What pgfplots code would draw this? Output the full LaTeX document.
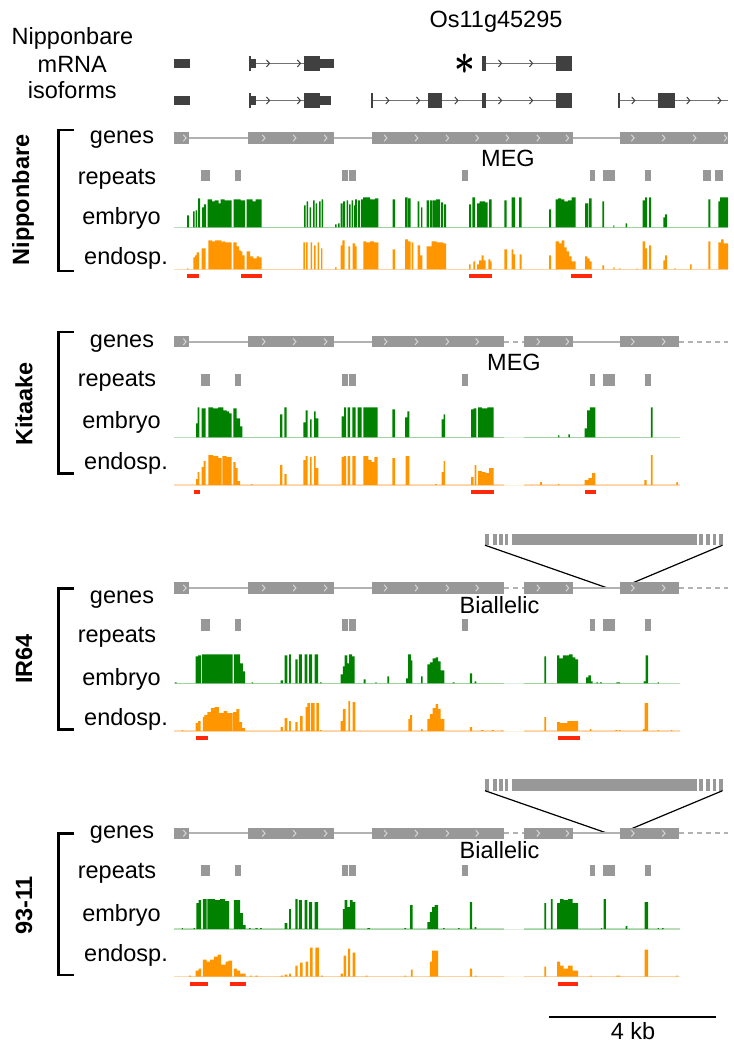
\documentclass[border=0pt]{standalone}
\usepackage{pgfplots}
\pgfplotsset{compat=1.18}
\usepackage{pgfplotstable}
\usepackage{fontspec}
\setmainfont{Liberation Sans}

\definecolor{embc}{RGB}{0,130,0}
\definecolor{endc}{RGB}{255,150,0}
\definecolor{emblight}{RGB}{185,222,185}
\definecolor{endlight}{RGB}{255,218,180}
\definecolor{redc}{RGB}{255,40,10}
\definecolor{genec}{RGB}{152,152,152}
\definecolor{chevc}{RGB}{214,214,214}
\definecolor{intronc}{RGB}{178,178,178}
\definecolor{isoc}{RGB}{64,64,64}
\definecolor{isoline}{RGB}{115,115,115}

\newcommand\labelfont{\fontsize{11.75}{14}\selectfont}
\tikzset{
  lbl/.style={font=\labelfont, inner sep=0pt, anchor=base},
  blbl/.style={font=\labelfont\bfseries, inner sep=0pt, rotate=90, anchor=center},
  astk/.style={inner sep=0pt, font=\fontsize{21}{21}\selectfont},
}

% strand chevron used on gene models
\pgfdeclareplotmark{chev}{%
  \pgfpathmoveto{\pgfqpoint{-0.7pt}{1.6pt}}%
  \pgfpathlineto{\pgfqpoint{0.7pt}{0pt}}%
  \pgfpathlineto{\pgfqpoint{-0.7pt}{-1.6pt}}%
  \pgfusepathqstroke}

% one horizontal feature: colour, thickness, from, to, y
\newcommand\seg[5]{\addplot[#1, line width=#2] coordinates {(#3,#5)(#4,#5)};}

% gene track of the re-assembled genomes (gaps after 504 and 679)
\newcommand\genesB[1]{%
  \seg{intronc}{1pt}{173.8}{504.4}{#1}%
  \addplot[intronc, line width=1pt, dash pattern=on 2.5pt off 2pt] coordinates {(504.4,#1)(524.4,#1)};%
  \seg{intronc}{1pt}{524.4}{679.3}{#1}%
  \addplot[intronc, line width=1pt, dash pattern=on 2.5pt off 2pt] coordinates {(679.3,#1)(728,#1)};%
  \seg{genec}{5.6pt}{173.8}{189.1}{#1}%
  \seg{genec}{5.6pt}{248.4}{333.5}{#1}%
  \seg{genec}{5.6pt}{371.6}{504.4}{#1}%
  \seg{genec}{5.6pt}{524.4}{572.7}{#1}%
  \seg{genec}{5.6pt}{620}{679.3}{#1}%
  \addplot[only marks, mark=chev, mark options={draw=chevc, line width=0.5pt}] coordinates {
    (184.7,#1)(263.6,#1)(294.5,#1)(325.5,#1)(385.5,#1)(416.4,#1)(447.3,#1)(477.1,#1)
    (538.2,#1)(567.3,#1)(632.7,#1)(663.6,#1)};%
}
% repeat annotation track
\newcommand\repeatsB[1]{%
  \seg{genec}{5.6pt}{200.7}{210.2}{#1}%
  \seg{genec}{5.6pt}{234.9}{240.7}{#1}%
  \seg{genec}{5.6pt}{341.8}{348}{#1}%
  \seg{genec}{5.6pt}{348.8}{356.4}{#1}%
  \seg{genec}{5.6pt}{462.2}{467.6}{#1}%
  \seg{genec}{5.6pt}{590.2}{594.5}{#1}%
  \seg{genec}{5.6pt}{602.5}{614.5}{#1}%
  \seg{genec}{5.6pt}{644.7}{650.9}{#1}%
}
% insertion drawn above the gene track: bar centre, bar bottom, gene line
\newcommand\insertB[3]{%
  \seg{genec}{5.6pt}{485}{489}{#1}%
  \seg{genec}{5.6pt}{492.7}{496.7}{#1}%
  \seg{genec}{5.6pt}{499.3}{502.7}{#1}%
  \seg{genec}{5.6pt}{505}{508.3}{#1}%
  \seg{genec}{5.6pt}{512.3}{697}{#1}%
  \seg{genec}{5.6pt}{699}{703}{#1}%
  \seg{genec}{5.6pt}{706}{709.5}{#1}%
  \seg{genec}{5.6pt}{712.5}{716}{#1}%
  \seg{genec}{5.6pt}{719}{723}{#1}%
  \addplot[black, line width=0.6pt] coordinates {(485,#2)(607.5,#3)};%
  \addplot[black, line width=0.6pt] coordinates {(722.5,#2)(620.5,#3)};%
}
% strain bracket: top, bottom
\newcommand\bracketB[2]{%
  \addplot[black, line width=1.2pt] coordinates {(74,#1)(58.5,#1)(58.5,#2)(74,#2)};%
}
% the four track names: baselines of genes, repeats, embryo, endosp.
\newcommand\tracknames[4]{%
  \node[lbl] at (122,#1) {genes};%
  \node[lbl] at (117,#2) {repeats};%
  \node[lbl] at (121.5,#3) {embryo};%
  \node[lbl] at (126,#4) {endosp.};%
}

\pgfplotstableread{
x h
186 0
187 12
189 0
193 16
194.5 0
195.5 17
197 0
198 29
200 0
202 20
203.8 23
206 0
207.5 28
212 26
214.5 27
218.5 24
220.5 28
224.5 27
231.5 0
233.5 28
240.5 27
245 0
246.5 28
252.5 26
255.5 28
261.7 0
304 22
305.5 0
306.5 26
308 0
309.5 20
311 0
313 27
314.5 0
315.5 24
317 0
319 26
320.5 0
321.5 28
323 0
335 3
336.5 0
338 4
339.5 0
340.7 24
342.5 0
343 26
345 0
346.7 27
348 0
349 23
350.5 0
351.5 27
353 0
354 22
355 28
357 0
358 27
360 0
361 28
363 30
370 28
375 29
378.3 0
392.7 28
395 0
405 30
407.5 0
408 29
410.7 0
417.7 26
419.3 0
421 20
422.3 0
426.7 27
429 0
430 27
432.5 0
433 27
436 28
440 0
441 25
443 0
444 23
446 0
469 23
471 0
472.3 30
475 0
477 24
479.7 26
485 25
487.7 0
489 28
491.7 0
504.3 27
506.7 0
511.7 30
515 0
519 30
521.7 0
549 18
551 0
555.7 28
558 29
561 28
564.3 26
568 27
571.7 30
575.7 0
585 24
588.3 0
589 29
591.7 0
602.3 26
604 0
613.3 2
614.3 0
625.7 4
627 0
642.7 27
645 30
647 0
649 30
651 0
663.3 10
665 13
667 0
708.3 28
710.3 0
718.3 26
720 30
728 30
728 0
}\tabNipEmb

\pgfplotstableread{
x h
186.5 0
187 1
188.3 0
193.3 12
195 14
196.7 17
199 0
201.7 21
205.7 0
208.3 29
212 28
215 29
221.7 27
222.3 28
225 27
231.7 0
233.3 27
236.7 23
239 19
240.5 18
242.3 14
244.5 0
246.7 18
250 13
253.3 11
256.7 13
259 12
261.7 0
303.3 27
305 0
306 27
307.7 0
310.7 27
312 0
314 24
315.7 0
317.7 27
319 0
321 21
322.3 0
335 2
336.7 0
340.7 24
342.3 29
344.5 0
348.3 23
350 0
352.7 26
355 23
356.7 0
363.3 28
366 27
370 28
374 27
378.3 0
392.7 20
395 0
405 30
408 28
410.7 0
411.7 27
413.3 0
417.7 24
420 14
422.3 0
426.7 23
431.7 28
436.7 27
440 27
443.3 26
446 0
469 5
470.7 0
473.3 8
475 0
477 5
479 9
481.7 14
483.7 9
485.7 0
488.3 10
490.3 8
491.7 0
504.3 20
507 0
511.7 20
513.3 15
515 0
519.7 15
521.7 0
549 14
551 0
555.7 28
559 26
561.7 29
564.3 22
566.7 18
569 13
571.7 8
575.7 0
585 13
587.3 11
589.7 8
591.7 0
602.3 4
604 0
613.3 2
614.7 0
619 1
620.3 0
636.7 1
637.7 0
642.7 28
645 21
647 0
649 24
651 0
663.3 9
665 14
667 0
674.3 1
675.7 0
690 5
691.7 0
708.3 28
710.3 0
718.3 27
721 30
723.7 26
728 26
728 0
}\tabNipEnd

\pgfplotstableread{
x h
195.5 0
196 14
197.7 30
199.3 0
201.7 29
205.7 0
208.3 30
213 29
218 30
223.3 27
226.7 26
229 24
231.7 0
233.3 29
236.7 19
240 11
242.3 0
280 23
282.3 0
284.3 30
286.7 0
303.3 15
305.7 27
307.7 0
310 18
311.7 0
314 26
315.7 19
318.3 0
341.7 21
344 30
346 0
347.7 30
350 0
352.3 30
355.7 0
357.7 30
361.7 0
363.3 30
377.7 0
392.3 28
395 0
405 20
407.3 26
409.3 0
441.7 18
443.7 23
445 0
471 28
473.5 29
476.4 0
478 30
481.8 29
487.3 30
493.5 0
558 2
559.3 0
568.4 3
569.8 0
584.7 9
587 27
589.8 30
595.3 0
650.9 30
652.7 0
}\tabKitEmb

\pgfplotstableread{
x h
195.5 0
196 6
197.7 13
199.3 0
201.7 18
203.7 24
205.7 0
208.3 30
213.3 29
218.3 27
221.7 0
222.3 29
226.7 28
231.7 0
233.3 23
235.7 17
237.7 4
240 0
251 1
252.3 0
280 20
282.3 0
284.3 11
286.7 0
303.3 25
305.7 29
307.7 0
310 28
311.7 0
314 29
315.7 17
318.3 0
341.7 28
344 29
346 0
347.7 29
350 0
352.3 29
355.7 0
363.3 29
368.3 25
371.7 23
374.3 28
377.7 0
392.3 27
395 0
405.7 29
409.3 0
435 1
436.7 0
441.7 13
443.7 24
445 0
471 8
473.5 0
474.5 20
476.4 0
478 14
481.8 13
485.5 12
489 17
493.5 0
540 3
541.8 0
558.2 1
559.3 0
584.7 5
588.4 7
592 12
595.3 0
644.4 5
646.5 0
650.9 30
652.7 0
676.4 3
677.8 0
}\tabKitEnd

\pgfplotstableread{
x h
174.5 0
175 1
176.7 0
195.6 27
198.2 28
201.1 0
202.2 29
207.3 29
232.7 0
234.2 29
240 20
242.9 12
245.1 0
251.6 1
253.1 0
280.7 3
282.9 0
284.7 28
287.3 0
289.1 29
290.9 0
295.3 24
297.5 0
298.9 29
301.8 0
304.7 29
307.3 0
309.1 29
312 0
314.5 29
318.2 0
320 1
321.5 0
340.7 9
342.9 17
344.7 28
347.3 20
349.1 29
352 27
354.5 0
363.6 4
365.5 0
375.3 1
376.7 0
387.3 7
389.1 0
406.2 5
408 29
410.9 23
412.3 0
421.1 7
422.5 0
427.3 19
429.8 21
432.7 25
435.6 26
438.2 22
440.7 13
444.4 0
452.7 1
454.5 0
469.8 10
472 0
474.5 2
476.4 0
544.4 27
546.2 0
557.1 28
559.3 25
562.9 28
569.1 29
572.7 26
575.3 24
578.2 0
586.2 6
588.4 8
590.9 2
592.6 0
596.4 1
598 0
600 1
601.8 0
616.4 1
620 0
643.6 2
645.5 28
648 0
657.5 1
658.9 0
}\tabIrEmb

\pgfplotstableread{
x h
181 0
181.8 1
183 0
195.6 8
198.2 10
200.7 0
202.9 14
204.4 16
207.3 19
210.9 23
214.5 24
218.9 18
223.6 20
227.3 18
232.7 0
233.2 19
236.4 22
239.3 9
242.2 3
245.1 0
280.7 4
282.9 0
284.7 13
287.3 0
289.1 10
290.9 0
295.3 9
297.5 0
300 15
302.5 0
305.5 24
307.3 28
309.8 0
310.9 28
314.5 0
316.4 28
318.9 0
320 1
321.5 0
340.7 10
342.9 22
345.5 0
348.4 30
350.2 0
352.7 29
355.3 0
408.4 12
410.2 16
412 0
421.1 2
422.5 0
427.3 12
429.8 17
432.7 23
435.6 27
438.2 22
440.7 12
444.4 0
469.8 4
472 0
481.1 1
483.6 0
491.6 1
493.8 0
501.5 1
502.5 0
544.4 14
546.2 0
557.1 9
560 8
567.3 10
578.2 0
589.8 2
591.3 0
615.3 1
617.5 0
619 1
620.5 0
642.9 2
644.7 28
648 0
657.5 1
658.9 0
671 1
672.4 0
}\tabIrEnd

\pgfplotstableread{
x h
181 0
181.8 1
182.9 0
193.5 1
194.9 0
196.4 26
198.5 29
201.1 0
202.9 30
206.5 0
207.3 30
215 29
220 30
225 28
229.1 0
233.8 29
240 16
242.9 4
245.5 0
249 1
250.5 0
255.3 1
257.5 0
260 1
261.8 0
284.7 6
287.3 0
289.1 20
290.9 0
295.3 30
297.5 0
298.9 29
301.8 0
304.7 29
307.3 0
309.1 27
312 0
314.5 27
318.2 0
342.9 20
344.7 29
347.3 22
349.8 29
352.7 27
355.3 0
367.3 1
370.2 0
404.4 1
406.2 0
410.2 24
412.7 0
427.3 7
429.8 17
432 22
434.5 24
438.2 0
443 1
444.5 0
458 1
459.5 0
469.8 27
472 0
474.5 2
476.4 0
544.4 26
546.2 0
550.9 30
552.7 0
557.1 26
560 30
563.6 29
568 30
572.7 26
578.2 0
600.8 1
602.2 0
603.6 30
605.8 0
625.5 3
627.3 0
644.7 27
648 0
657.5 1
658.9 0
662 1
663.5 0
}\tabNtEmb

\pgfplotstableread{
x h
188 0
189.1 1
190.9 0
195.6 6
198.5 8
201.1 0
202.9 17
206.5 15
210.2 17
213.8 20
217.5 22
221.1 12
225.5 15
228.4 16
232 0
233.8 8
237.1 6
240 3
245.5 0
250.2 1
251.6 0
255.3 1
257.5 0
280.7 1
282.9 0
284.7 2
287.3 0
289.1 3
290.9 0
295.3 11
297.5 0
300 14
302.5 0
305.5 15
308 0
310.2 29
312.7 0
315.3 29
318.9 0
321 1
322.9 0
340.7 3
342.9 0
343.6 21
346.2 0
348 28
350.2 0
352.7 24
355.3 0
365.5 1
367.3 0
404.4 1
406 0
410.9 7
412.7 0
429.8 15
432 26
438.2 0
469.8 8
472 0
475 1
476.4 0
544.4 10
546.2 0
557.1 15
560 11
563.6 8
568 11
572.7 6
578.2 0
589.8 1
591.3 0
616.4 1
620 0
644.7 27
648 0
676.4 1
677.8 0
}\tabNtEnd

\begin{document}
\begin{tikzpicture}
\begin{axis}[
  scale only axis, width=364pt, height=522pt,
  xmin=0, xmax=728, ymin=0, ymax=1044, y dir=reverse,
  hide axis, clip=false,
]
% invisible frame fixing the extent of the figure
\addplot[draw=none] coordinates {(0,0)(728,0)(728,1044)(0,1044)};

% ---------- titles ----------
\node[lbl] at (496,27) {Os11g45295};
\node[lbl] at (72.5,44) {Nipponbare};
\node[lbl] at (72.3,72) {mRNA};
\node[lbl] at (72.3,98) {isoforms};
\node[astk] at (464.7,64) {$\ast$};
\node[astk] at (465.3,64.5) {$\ast$};
\node[astk] at (465,63.6) {$\ast$};

% ---------- mRNA isoforms ----------
\seg{isoline}{0.8pt}{255}{303.6}{63.4}
\seg{isoline}{0.8pt}{486}{556}{63.4}
\seg{isoc}{4.2pt}{173.8}{189.8}{63.4}
\seg{isoc}{4.2pt}{251}{255.5}{63.4}
\seg{isoc}{4.2pt}{319.5}{333.8}{63.4}
\seg{isoc}{7.65pt}{249}{251.3}{63.4}
\seg{isoc}{7.65pt}{303.6}{320}{63.4}
\seg{isoc}{7.65pt}{482}{486}{63.4}
\seg{isoc}{7.65pt}{556}{572}{63.4}
\addplot[only marks, mark=chev, mark options={draw=isoc, line width=0.5pt, scale=1.1}] coordinates {
  (268,63.4)(298.9,63.4)(500,63.4)(531,63.4)};

\seg{isoline}{0.8pt}{255}{303.6}{100.5}
\seg{isoline}{0.8pt}{372}{556}{100.5}
\seg{isoline}{0.8pt}{619}{728}{100.5}
\seg{isoc}{4.2pt}{173.8}{189.8}{100.5}
\seg{isoc}{4.2pt}{251}{255.5}{100.5}
\seg{isoc}{4.2pt}{319.5}{331}{100.5}
\seg{isoc}{7.65pt}{249}{251.3}{100.5}
\seg{isoc}{7.65pt}{303.6}{320}{100.5}
\seg{isoc}{7.65pt}{428}{441.8}{100.5}
\seg{isoc}{7.65pt}{482}{486}{100.5}
\seg{isoc}{7.65pt}{556}{572}{100.5}
\seg{isoc}{7.65pt}{658}{675}{100.5}
\addplot[isoc, line width=0.9pt] coordinates {(372,92.7)(372,108.3)};
\addplot[isoc, line width=0.9pt] coordinates {(619,92.7)(619,108.3)};
\addplot[only marks, mark=chev, mark options={draw=isoc, line width=0.5pt, scale=1.1}] coordinates {
  (268,100.5)(298.9,100.5)(387.3,100.5)(418,100.5)(456.4,100.5)(500,100.5)(531,100.5)
  (633.3,100.5)(688.3,100.5)(719.3,100.5)};

% ---------- Nipponbare ----------
\bracketB{130}{270.7}
\node[blbl] at (23,200) {Nipponbare};
\tracknames{143.3}{184.3}{224.3}{264.3}

\seg{intronc}{1pt}{173.8}{728}{138}
\seg{genec}{5.6pt}{173.8}{189.1}{138}
\seg{genec}{5.6pt}{248.4}{333.5}{138}
\seg{genec}{5.6pt}{371.6}{572.7}{138}
\seg{genec}{5.6pt}{620}{728}{138}
\addplot[only marks, mark=chev, mark options={draw=chevc, line width=0.5pt}] coordinates {
  (184.7,138)(263.6,138)(294.5,138)(325.5,138)(385.5,138)(416.4,138)(447.3,138)(477.1,138)
  (507.3,138)(538.2,138)(567.3,138)(632.7,138)(663.6,138)(694.5,138)(725.5,138)};
\node[lbl] at (508,166.5) {MEG};
\repeatsB{175.5}
\seg{genec}{5.6pt}{703.3}{710.9}{175.5}
\seg{genec}{5.6pt}{714.5}{722.9}{175.5}

\seg{emblight}{0.6pt}{173.8}{728}{227.3}
\addplot[const plot, draw=none, fill=embc] table[x=x, y expr=227.3-\thisrow{h}] {\tabNipEmb};
\seg{endlight}{0.6pt}{173.8}{728}{269.3}
\addplot[const plot, draw=none, fill=endc] table[x=x, y expr=269.3-\thisrow{h}] {\tabNipEnd};
\seg{redc}{2pt}{187.3}{199.3}{276}
\seg{redc}{2pt}{241}{261.7}{276}
\seg{redc}{2pt}{469.3}{492.3}{276}
\seg{redc}{2pt}{570.7}{592.3}{276}

% ---------- Kitaake ----------
\bracketB{331.7}{473.3}
\node[blbl] at (24,404) {Kitaake};
\tracknames{347.3}{386}{428.5}{469.3}
\genesB{341.7}
\node[lbl] at (514,370.5) {MEG};
\repeatsB{380}
\seg{emblight}{0.6pt}{173.8}{504.4}{437.3}
\seg{emblight}{0.6pt}{524.4}{680}{437.3}
\addplot[const plot, draw=none, fill=embc] table[x=x, y expr=437.3-\thisrow{h}] {\tabKitEmb};
\seg{endlight}{0.6pt}{173.8}{504.4}{485}
\seg{endlight}{0.6pt}{524.4}{680}{485}
\addplot[const plot, draw=none, fill=endc] table[x=x, y expr=485-\thisrow{h}] {\tabKitEnd};
\seg{redc}{2pt}{194}{200}{492}
\seg{redc}{2pt}{471}{493.8}{492}
\seg{redc}{2pt}{584.7}{596.4}{492}

% ---------- IR64 ----------
\insertB{539.5}{545.2}{588}
\bracketB{588.3}{729.3}
\node[blbl] at (24,659) {IR64};
\tracknames{603.3}{642.7}{685}{725}
\genesB{588}
\node[lbl] at (499.5,613) {Biallelic};
\repeatsB{625}
\seg{emblight}{0.6pt}{173.8}{504.4}{683.3}
\seg{emblight}{0.6pt}{524.4}{680}{683.3}
\addplot[const plot, draw=none, fill=embc] table[x=x, y expr=683.3-\thisrow{h}] {\tabIrEmb};
\seg{endlight}{0.6pt}{173.8}{504.4}{731}
\seg{endlight}{0.6pt}{524.4}{680}{731}
\addplot[const plot, draw=none, fill=endc] table[x=x, y expr=731-\thisrow{h}] {\tabIrEnd};
\seg{redc}{2pt}{195.6}{208.4}{738}
\seg{redc}{2pt}{558.2}{580}{738}

% ---------- 93-11 ----------
\insertB{785}{790.7}{833.3}
\bracketB{833.3}{975}
\node[blbl] at (24,905.5) {93-11};
\tracknames{838.3}{878.3}{921.7}{961.7}
\genesB{833.3}
\node[lbl] at (499.5,858) {Biallelic};
\repeatsB{870.5}
\seg{emblight}{0.6pt}{173.8}{504.4}{929}
\seg{emblight}{0.6pt}{524.4}{680}{929}
\addplot[const plot, draw=none, fill=embc] table[x=x, y expr=929-\thisrow{h}] {\tabNtEmb};
\seg{endlight}{0.6pt}{173.8}{504.4}{976.7}
\seg{endlight}{0.6pt}{524.4}{680}{976.7}
\addplot[const plot, draw=none, fill=endc] table[x=x, y expr=976.7-\thisrow{h}] {\tabNtEnd};
\seg{redc}{2pt}{190.2}{208}{984}
\seg{redc}{2pt}{230.2}{245.5}{984}
\seg{redc}{2pt}{557.5}{578.2}{984}

% ---------- scale bar ----------
\seg{black}{1.4pt}{549}{716}{1017}
\node[lbl] at (633,1039) {4 kb};

\end{axis}
\end{tikzpicture}
\end{document}
